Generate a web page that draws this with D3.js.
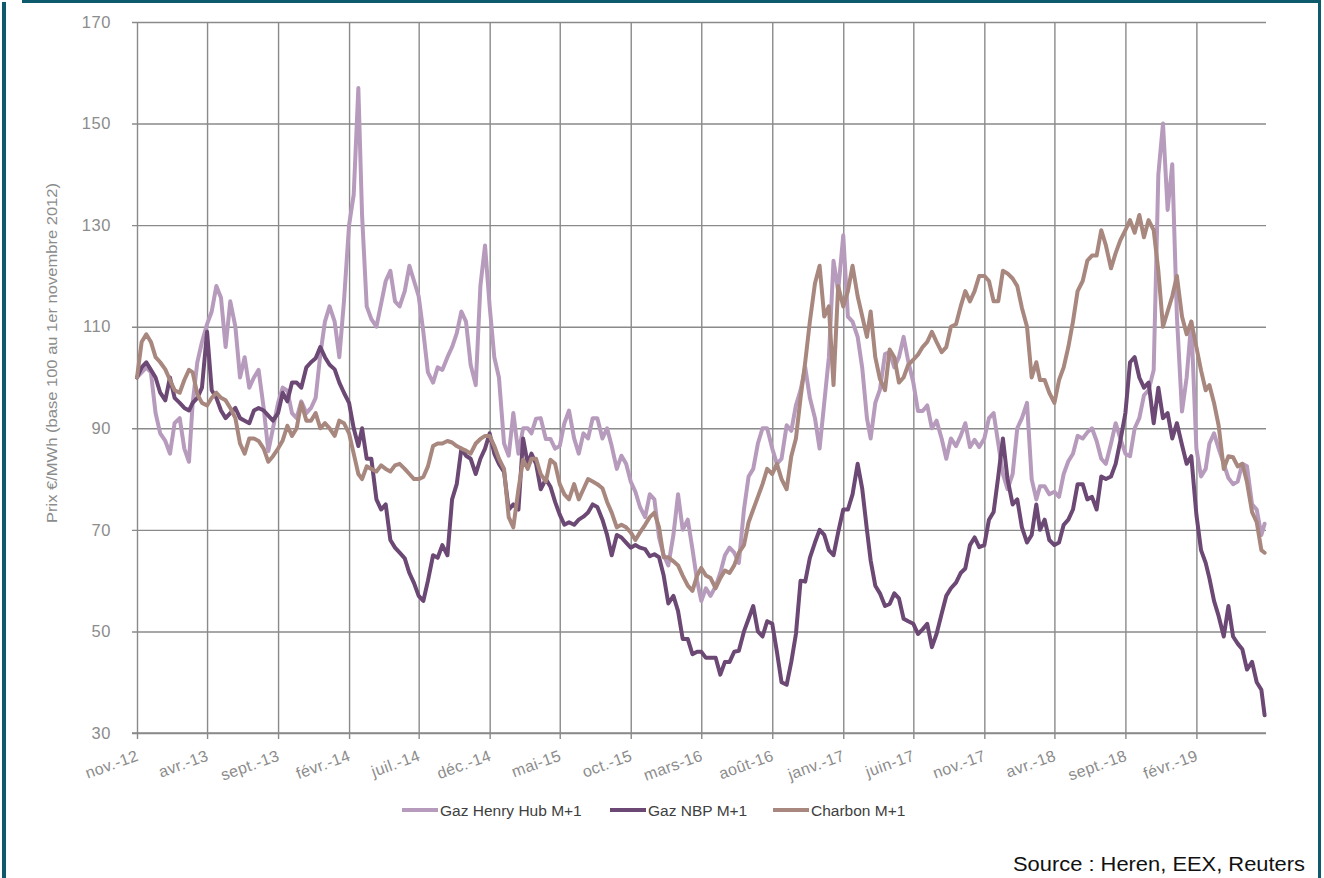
<!DOCTYPE html>
<html><head><meta charset="utf-8">
<script src="https://cdn.jsdelivr.net/npm/d3@7"></script>
<style>body{margin:0;background:#fff}svg{display:block}</style>
</head><body><svg id="c" width="1324" height="878"></svg>
<script>
// ---- data ----
const xTickLabels = ["nov.-12","avr.-13","sept.-13","févr.-14","juil.-14","déc.-14","mai-15","oct.-15","mars-16","août-16","janv.-17","juin-17","nov.-17","avr.-18","sept.-18","févr.-19"];
const yTicks = [30,50,70,90,110,130,150,170];
const seriesNames = ["Gaz Henry Hub M+1","Gaz NBP M+1","Charbon M+1"];
const startMonth = "2012-11-01";
const endMonth = "2019-07-01";
const sampleDays = [1,11,21];
const lastDate = "2019-06-28";
const henryHub = [
100,101,102,101,93,89,87.5,85,91,92,
86,83.4,95,103,107,110.5,113,118,115.7,106,
115,110,100,104,98,100,101.5,94,85.5,90,
95,98,97.4,93,92,95.3,93,94,96,104.5,
111,114,111,104,115,130,136,157,132,114,
111.5,110,114.5,119,121,115,114,117,122,119,
116,109,101,99,102,101.5,104,106,108.7,113,
111,102.5,98.5,118,126,114,104,100,87,84.6,
93,85,90,90,89,91.9,92,87.9,87.9,86,
86.5,91,93.5,88,85,89,88,92,92,88,
90,86.5,82,84.6,83,79.5,77.5,74.5,72.5,77,
76,68.5,65,63,69,77,70,72,66.2,60,
56,58.5,57,58.9,61.5,65,66.5,65.5,63.5,74,
80.5,82,87,90,90,86,83,84,90.6,89.5,
94.5,97.5,102,96,92,86,95,104,123,117,
128,112,111,108,101.8,92,88,95,97.6,104.6,
105,102,104,108,103.2,99,93.4,93.4,94.5,90,
91.5,88,84,88,86.5,88.5,91,86.3,87.7,86.3,
88,92,93,87,81,78,81,90,92,95,
80,76,78.6,78.6,77,77.5,76.5,81,83.5,85,
88.5,88,89.2,90,87.5,84,83,87,91,88,
85,84.5,90,92,96.5,97.5,101.5,140,150,133,
142,112,93.3,100,111,86,80.5,82,87,89,
86,83,80.2,79,79.5,83,82.5,75,74,69,
71.2];
const nbp = [
100,102,103,101.5,100,97,95.5,100,96,95,
94,93.5,95,96,98,109,97.5,96,93.5,92,
93,94,92,91.5,91,93.5,94,93.5,92.5,91.5,
93,97,95.3,99,99,98,102,103,103.8,106,
104,102.5,101.6,99,97,95,90,86.5,90,84,
84,76,74,75,68,66.5,65.5,64.4,61.5,59.5,
57,56,60,65,64.5,67,65,76,79,86,
84.6,84,81,84,86,89,85,83,81.4,74,
75,74,88,83,85,83,78,80,78.5,75.5,
73,71,71.5,71,72,72.6,73.4,75,74.5,72,
69,65,69,68.5,67.5,66.5,67,66.5,66.2,64.8,
65.2,64.6,61,55.5,57,54,48.5,48.5,45.5,46,
46,44.8,44.8,44.8,41.5,44,44,46,46.2,50,
52.5,55,50,49,52,51.5,46,40,39.5,44,
49.5,60,59.8,64.5,67.5,70,69,66,65,69.5,
74,74,77,83,78,70,64,59,57.5,55,
55.4,57.5,56.5,52.5,52,51.5,49.5,50.4,51.5,46.9,
49.5,53.5,57,58.5,59.6,61.5,62.4,67,68.5,66.6,
67,72,73.5,80.5,88,80,75,76,70.5,67.5,
69,75,70,72,68,67,67.5,71,72,74,
79,79,76,76.5,74,80.5,80,80.5,83,87.5,
93,103,104,100,98,99,91,98,92,93,
88,91,86.7,83,84.5,73,66,63.5,60.5,56,
53,49,55,49,47.6,46.5,42.5,44,40,38.5,
33.5];
const charbon = [
100,107,108.5,107,104,103,101.6,99.5,97.5,97,
99.5,101.5,101,96.7,95,94.5,96,97,96,95.5,
94,92,87,85,88,88,87.5,86,83.4,84.5,
86,87.6,90.5,88.5,90,95,91.5,91.5,93,90,
91,90,88.5,91.5,91,89,85,81,80,82.5,
82,81.5,82.7,82,81.5,82.7,83,82,81,80,
80,80.4,82.5,86.5,87,87,87.5,87.2,86.5,86,
85.6,85,87,87.9,88.5,88.5,86.5,84,82,72.5,
70.5,78,83.8,82,84,84,81,79.5,83.8,83,
79,77,76,79,76,78,80,79.5,79,78.2,
75.5,73.4,70.5,71,70.5,69.5,68,69.5,71,72.5,
73.4,70.5,64.6,64.6,63.8,63,61,59,58,61,
62.5,61,60.5,58.5,60.5,62,61.5,63,65.5,67,
71.5,74,76.5,79,82,81,83,80,78,84.5,
88,96,103,111,118.5,122,112,114,98.5,118,
114,117,122,116,112,108,113,104,99.7,97.5,
105.5,104,99,100,102.5,103.5,104.5,106,107,109,
107,105,106,110,110.5,114,117,115,117,120,
120,119,115,115,121,120.5,119.5,118,113.7,110,
100,103,99.5,99.5,97,95,99.5,102,106,111,
117,119,123,124,124,129,126,121.5,124.5,127,
129,131,128.5,132,127.6,131,129,121,110,113,
116,120,112,108.5,111,106,101.4,97.5,98.5,95,
90.5,82,84.5,84.3,82.5,83,79.4,73.5,71.5,66,
65.5];
const colors = ["#b79bbd","#6c4874","#a8877f"];

// ---- build dates ----
const parse = d3.timeParse("%Y-%m-%d");
const months = d3.timeMonth.range(parse(startMonth), parse(endMonth));
const dates = months.flatMap(m => sampleDays.map(d => new Date(m.getFullYear(), m.getMonth(), d))).concat([parse(lastDate)]);
const tickDates = xTickLabels.map((_, i) => d3.timeMonth.offset(parse(startMonth), 5 * i));

const svg = d3.select("#c");
const L = 137, R = 1266, T = 22, B = 733;
const x = d3.scaleTime().domain([parse(startMonth), parse(endMonth)]).range([L, R]);
const y = d3.scaleLinear().domain([30, 170]).range([B, T]);
const gridCol = "#8a8a8a", labCol = "#8c8c8c";
const font = "'Liberation Sans', Arial, sans-serif";

// frame
svg.append("rect").attr("x", 22).attr("y", 0).attr("width", 1299).attr("height", 3).attr("fill", "#0d5a6d");
svg.append("rect").attr("x", 2).attr("y", 2).attr("width", 4).attr("height", 876).attr("fill", "#0d5a6d");
svg.append("rect").attr("x", 1318).attr("y", 0).attr("width", 3).attr("height", 878).attr("fill", "#0d5a6d");

// horizontal grid + y axis
const yAxis = d3.axisLeft(y).tickValues(yTicks).tickSize(-(R - L)).tickSizeOuter(0).tickPadding(26);
const gy = svg.append("g").attr("transform", `translate(${L},0)`).call(yAxis);
gy.select(".domain").remove();
gy.selectAll(".tick line").attr("x1", -5).attr("stroke", gridCol).attr("stroke-width", 1.4);
gy.selectAll(".tick text").attr("fill", labCol).style("font-family", font).style("font-size", "16.5px").style("letter-spacing", "0.6px");

// vertical grid + x axis
const xAxis = d3.axisBottom(x).tickValues(tickDates).tickSize(-(B - T)).tickSizeOuter(0).tickFormat((d, i) => xTickLabels[i]);
const gx = svg.append("g").attr("transform", `translate(0,${B})`).call(xAxis);
gx.select(".domain").remove();
gx.selectAll(".tick line").attr("y1", 6).attr("stroke", gridCol).attr("stroke-width", 1.4);
gx.selectAll(".tick text")
  .attr("fill", labCol).style("font-family", font).style("font-size", "16px").style("letter-spacing", "0.4px")
  .attr("text-anchor", "end").attr("dy", null)
  .attr("transform", "translate(2,27) rotate(-20)")
  .attr("y", 0).attr("x", 0);
// bottom axis line
svg.append("line").attr("x1", L - 5).attr("x2", R).attr("y1", B).attr("y2", B).attr("stroke", gridCol).attr("stroke-width", 1.6);

// series
const seriesData = [henryHub, nbp, charbon];
const line = d3.line().x((d, i) => x(dates[i])).y(d => y(d)).curve(d3.curveLinear);
seriesData.forEach((vals, k) => {
  svg.append("path").datum(vals).attr("d", line).attr("fill", "none")
    .attr("stroke", colors[k]).attr("stroke-width", 4).attr("stroke-linejoin", "round").attr("stroke-linecap", "round");
});

// y title
svg.append("text").attr("transform", "translate(57,353) rotate(-90)").attr("text-anchor", "middle")
  .attr("fill", labCol).style("font-family", font).style("font-size", "15px")
  .attr("textLength", 340).attr("lengthAdjust", "spacingAndGlyphs")
  .text("Prix €/MWh (base 100 au 1er novembre 2012)");

// legend
const legX = [402, 610, 773];
seriesNames.forEach((n, k) => {
  svg.append("line").attr("x1", legX[k]).attr("x2", legX[k] + 36).attr("y1", 810).attr("y2", 810)
    .attr("stroke", colors[k]).attr("stroke-width", 4);
  svg.append("text").attr("x", legX[k] + 38).attr("y", 815.5).attr("fill", "#404040")
    .style("font-family", font).style("font-size", "15.5px").text(n);
});

// source
svg.append("text").attr("x", 1305).attr("y", 871).attr("text-anchor", "end").attr("fill", "#111")
  .style("font-family", font).style("font-size", "21px")
  .attr("textLength", 292).attr("lengthAdjust", "spacingAndGlyphs")
  .text("Source : Heren, EEX, Reuters");
</script></body></html>
